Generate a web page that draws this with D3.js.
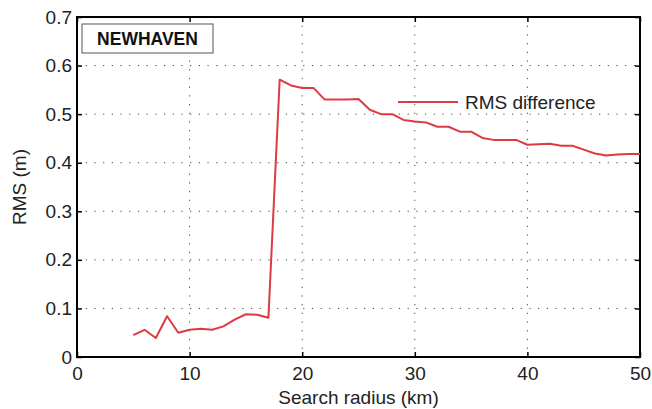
<!DOCTYPE html>
<html lang="en">
<head>
  <meta charset="UTF-8">
  <title>NEWHAVEN RMS difference</title>
  <script src="https://d3js.org/d3.v7.min.js"></script>
  <style>
    * { padding: 0; margin: 0; box-sizing: border-box; }
    body { background: #fff; }
    svg { display: block; font-family: "Liberation Sans", Arial, sans-serif; }
  </style>
</head>
<body>
  <div id="container"></div>
  <script>
    // search radius (km) and RMS difference (m)
    const radius = [5, 6, 7, 8, 9, 10, 11, 12, 13, 14, 15, 16, 17, 18, 19, 20, 21, 22, 23, 24, 25, 26, 27,
      28, 29, 30, 31, 32, 33, 34, 35, 36, 37, 38, 39, 40, 41, 42, 43, 44, 45, 46, 47, 48, 49, 50];
    const rms = [0.045, 0.056, 0.039, 0.084, 0.050, 0.056, 0.058, 0.056, 0.063, 0.077, 0.088, 0.087, 0.081,
      0.571, 0.559, 0.554, 0.554, 0.530, 0.530, 0.530, 0.531, 0.509, 0.500, 0.500, 0.488, 0.485, 0.483,
      0.474, 0.474, 0.464, 0.464, 0.451, 0.447, 0.447, 0.447, 0.437, 0.438, 0.439, 0.435, 0.435, 0.427,
      0.419, 0.415, 0.417, 0.418, 0.418];
    const xTicks = [0, 10, 20, 30, 40, 50];
    const yTicks = [0, 0.1, 0.2, 0.3, 0.4, 0.5, 0.6, 0.7];

    const width = 652, height = 409;
    const margin = { top: 17, right: 12, bottom: 52, left: 77 };
    const W = width - margin.left - margin.right;
    const H = height - margin.top - margin.bottom;

    const svg = d3.select("#container").append("svg")
      .attr("width", width)
      .attr("height", height);
    const g = svg.append("g").attr("transform", `translate(${margin.left},${margin.top})`);

    const x = d3.scaleLinear().domain([0, 50]).range([0, W]);
    const y = d3.scaleLinear().domain([0, 0.7]).range([H, 0]);

    // dotted grid
    g.append("g").selectAll("line")
      .data(xTicks.slice(1, -1))
      .join("line")
      .attr("x1", d => x(d)).attr("x2", d => x(d))
      .attr("y1", 0).attr("y2", H)
      .attr("stroke", "#444").attr("stroke-width", 1)
      .attr("stroke-dasharray", "1.2,7.5");
    g.append("g").selectAll("line")
      .data(yTicks.slice(1, -1))
      .join("line")
      .attr("x1", 0).attr("x2", W)
      .attr("y1", d => y(d)).attr("y2", d => y(d))
      .attr("stroke", "#444").attr("stroke-width", 1)
      .attr("stroke-dasharray", "1.2,7.5");

    // axes, ticks inward (matlab style)
    const fmtY = d => d === 0 ? "0" : d3.format(".1f")(d);
    const bottom = g.append("g").attr("transform", `translate(0,${H})`)
      .call(d3.axisBottom(x).tickValues(xTicks).tickSize(-5).tickPadding(10).tickFormat(d3.format("d")));
    const left = g.append("g")
      .call(d3.axisLeft(y).tickValues(yTicks).tickSize(-5).tickPadding(5).tickFormat(fmtY));
    g.append("g").call(d3.axisTop(x).tickValues(xTicks).tickSize(-5).tickFormat(""));
    g.append("g").attr("transform", `translate(${W},0)`)
      .call(d3.axisRight(y).tickValues(yTicks).tickSize(-5).tickFormat(""));
    g.selectAll(".domain").remove();
    g.selectAll(".tick line").attr("stroke", "#000").attr("stroke-width", 1.5);
    g.selectAll(".tick text").attr("font-size", 19).attr("fill", "#222")
      .attr("font-family", "'Liberation Sans', Arial, sans-serif");

    // frame
    g.append("rect")
      .attr("width", W).attr("height", H)
      .attr("fill", "none").attr("stroke", "#000").attr("stroke-width", 2);

    // data line
    const line = d3.line().x((d, i) => x(radius[i])).y(d => y(d));
    g.append("path")
      .datum(rms)
      .attr("fill", "none")
      .attr("stroke", "#dd3a44")
      .attr("stroke-width", 2)
      .attr("stroke-linejoin", "round")
      .attr("d", line);

    // title box
    const tb = g.append("g").attr("transform", "translate(5,7)");
    tb.append("rect").attr("width", 131).attr("height", 29)
      .attr("fill", "#fff").attr("stroke", "#555").attr("stroke-width", 1);
    tb.append("text").attr("x", 65.5).attr("y", 21)
      .attr("text-anchor", "middle").attr("font-size", 17.5).attr("font-weight", "bold")
      .attr("fill", "#111").text("NEWHAVEN");

    // legend
    const lg = g.append("g").attr("transform", `translate(${398 - margin.left},${102 - margin.top})`);
    lg.append("line").attr("x1", 0).attr("x2", 60)
      .attr("stroke", "#dd3a44").attr("stroke-width", 2);
    lg.append("text").attr("x", 67).attr("y", 7)
      .attr("font-size", 19).attr("fill", "#222").text("RMS difference");

    // axis labels
    svg.append("text")
      .attr("x", margin.left + W / 2).attr("y", 404)
      .attr("text-anchor", "middle").attr("font-size", 19).attr("fill", "#222")
      .text("Search radius (km)");
    svg.append("text")
      .attr("transform", `translate(26,${margin.top + H / 2}) rotate(-90)`)
      .attr("text-anchor", "middle").attr("font-size", 19).attr("fill", "#222")
      .text("RMS (m)");
  </script>
</body>
</html>
